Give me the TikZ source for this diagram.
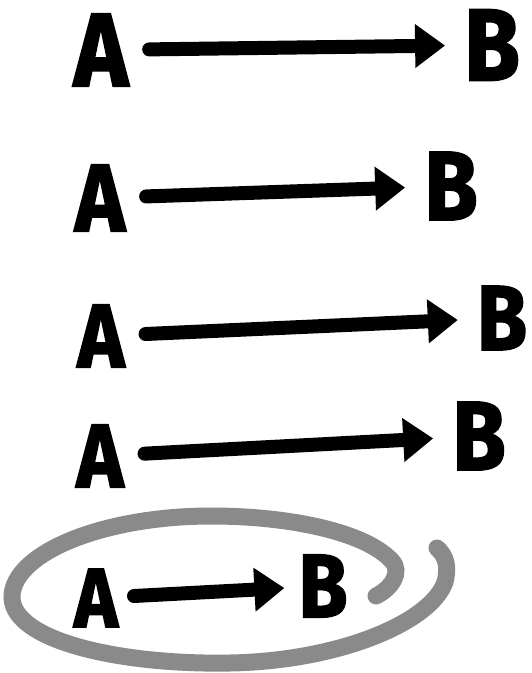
\documentclass[tikz,border=0pt]{standalone}
\usepackage{fontspec}
\setmainfont{Fira Sans}[FakeStretch=0.88, BoldFeatures={FakeBold=2}]
\usetikzlibrary{arrows.meta}
\definecolor{loopgray}{HTML}{8A8A8A}
\tikzset{
  letter/.style={inner sep=0pt, font=\fontsize{#1}{#1}\selectfont\bfseries},
  letter/.default=90,
  arr/.style={line width=14pt, line cap=round, shorten <=21pt, shorten >=19pt,
    -{Triangle[length=30pt,width=42pt]}},
  loopline/.style={draw=loopgray, line width=17pt, line cap=round}
}
\begin{document}
\begin{tikzpicture}[x=1pt,y=-1pt]
\useasboundingbox (0,0) rectangle (531,673);
% row 1
\node[letter=104] (A1) at (101,50) {A};
\node[letter=102] (B1) at (492,45) {B};
\draw[arr] (A1) -- (B1);
% row 2
\node[letter=96] (A2) at (100,198) {A};
\node[letter=98] (B2) at (451,186) {B};
\draw[arr] (A2) -- (B2);
% row 3
\node[letter=90] (A3) at (101,336) {A};
\node[letter=92] (B3) at (502,318) {B};
\draw[arr] (A3) -- (B3);
% row 4
\node[letter=90] (A4) at (100,456) {A};
\node[letter=98] (B4) at (479,436) {B};
\draw[arr] (A4) -- (B4);
% row 5
\node[letter=84] (A5) at (96,598) {A};
\node[letter=90] (B5) at (323,586) {B};
\draw[arr, shorten <=16pt, shorten >=14pt] (A5) -- (B5);
% gray loop
\draw[loopline] (376,596) .. controls (392,588) and (402,572) .. (392,561)
  .. controls (360,526) and (260,512) .. (180,517)
  .. controls (80,524) and (11,560) .. (12,598)
  .. controls (14,641) and (120,665) .. (230,663)
  .. controls (340,661) and (431,622) .. (445,582)
  .. controls (449,566) and (446,556) .. (437,548);
\end{tikzpicture}
\end{document}
